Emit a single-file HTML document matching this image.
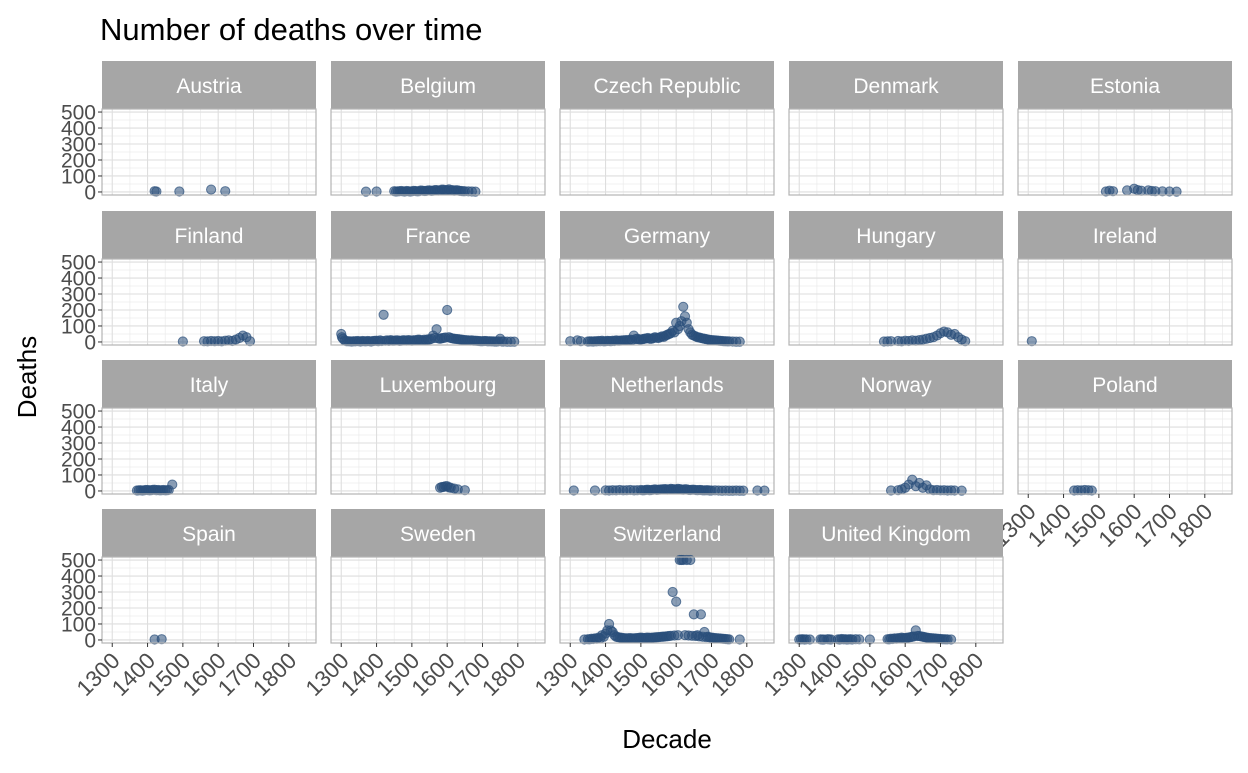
<!DOCTYPE html>
<html><head><meta charset="utf-8"><style>
body{margin:0;background:#fff;}
svg{font-family:"Liberation Sans",Arial,sans-serif;}
</style></head><body>
<svg id="chart" width="1248" height="768" xmlns="http://www.w3.org/2000/svg">
<text x="100" y="40" font-size="31" fill="#000">Number of deaths over time</text>
<text x="667" y="748" font-size="26" text-anchor="middle" fill="#000">Decade</text>
<text transform="translate(36,377) rotate(-90)" font-size="26" text-anchor="middle" fill="#000">Deaths</text>
<g id="panels"></g>
</svg>
<script>
const countries = ["Austria","Belgium","Czech Republic","Denmark","Estonia","Finland","France","Germany","Hungary","Ireland","Italy","Luxembourg","Netherlands","Norway","Poland","Spain","Sweden","Switzerland","United Kingdom"];
const xTicks = [1300,1400,1500,1600,1700,1800];
const yTicks = [0,100,200,300,400,500];
const austria = [[1420,5],[1425,3],[1490,3],[1580,15],[1620,5]];
const belgium = [[1370,2],[1400,3],[1450,5],[1455,3],[1460,4],[1465,5],[1470,6],[1475,4],[1480,3],[1485,6],[1490,5],[1495,3],[1500,4],[1505,7],[1510,6],[1515,4],[1520,5],[1525,9],[1530,8],[1535,6],[1540,6],[1545,9],[1550,10],[1555,7],[1560,8],[1565,12],[1570,12],[1575,9],[1580,10],[1585,15],[1590,14],[1595,11],[1600,12],[1605,16],[1610,10],[1615,12],[1620,8],[1625,11],[1630,10],[1635,7],[1640,6],[1645,5],[1650,5],[1660,4],[1670,3],[1680,2]];
const czech = [];
const denmark = [];
const estonia = [[1520,3],[1530,8],[1540,5],[1580,10],[1600,20],[1610,12],[1620,8],[1640,10],[1650,6],[1660,5],[1680,4],[1700,3],[1720,2]];
const finland = [[1500,3],[1560,5],[1570,4],[1580,6],[1590,5],[1600,6],[1610,4],[1620,8],[1630,10],[1640,6],[1650,15],[1660,25],[1670,40],[1680,30],[1690,5]];
const france = [[1300,50],[1302,30],[1305,20],[1310,10],[1315,5],[1320,5],[1325,4],[1330,3],[1335,5],[1340,4],[1345,6],[1350,5],[1355,3],[1360,6],[1365,5],[1370,4],[1375,6],[1380,5],[1385,3],[1390,6],[1395,7],[1400,8],[1405,5],[1410,10],[1415,6],[1420,170],[1425,8],[1430,10],[1435,7],[1440,12],[1445,8],[1450,8],[1455,10],[1460,10],[1465,7],[1470,8],[1475,11],[1480,10],[1485,9],[1490,12],[1495,10],[1500,8],[1505,11],[1510,10],[1515,13],[1520,15],[1525,12],[1530,10],[1535,14],[1540,12],[1545,16],[1550,15],[1555,20],[1560,40],[1565,25],[1570,80],[1575,22],[1580,20],[1585,24],[1590,25],[1595,28],[1600,200],[1605,30],[1610,25],[1615,22],[1620,20],[1625,19],[1630,18],[1635,16],[1640,15],[1645,13],[1650,12],[1655,11],[1660,10],[1665,9],[1670,10],[1675,8],[1680,8],[1685,7],[1690,6],[1695,5],[1700,5],[1705,6],[1710,6],[1715,4],[1720,5],[1725,4],[1730,4],[1735,3],[1740,3],[1745,4],[1750,20],[1755,3],[1760,3],[1770,2],[1780,2],[1790,2]];
const germany = [[1300,5],[1320,10],[1330,5],[1350,3],[1355,4],[1360,4],[1365,3],[1370,5],[1375,4],[1380,6],[1385,5],[1390,8],[1395,4],[1400,5],[1405,7],[1410,6],[1415,5],[1420,8],[1425,6],[1430,10],[1435,8],[1440,8],[1445,9],[1450,10],[1455,11],[1460,12],[1465,10],[1470,15],[1475,12],[1480,40],[1485,18],[1490,20],[1495,16],[1500,15],[1505,18],[1510,20],[1515,22],[1520,25],[1525,20],[1530,20],[1535,24],[1540,30],[1545,26],[1550,25],[1555,30],[1560,35],[1565,32],[1570,40],[1575,45],[1580,50],[1585,55],[1590,70],[1595,60],[1600,120],[1605,80],[1610,100],[1615,130],[1620,220],[1625,160],[1630,120],[1635,80],[1640,60],[1645,45],[1650,40],[1655,35],[1660,30],[1665,28],[1670,25],[1675,22],[1680,20],[1685,18],[1690,15],[1695,13],[1700,12],[1705,11],[1710,10],[1715,9],[1720,8],[1725,7],[1730,6],[1735,5],[1740,5],[1745,4],[1750,4],[1760,3],[1770,2],[1780,2]];
const hungary = [[1540,3],[1550,4],[1560,5],[1580,6],[1590,4],[1600,8],[1610,6],[1620,10],[1630,8],[1640,12],[1650,15],[1660,20],[1670,25],[1680,30],[1690,40],[1700,55],[1710,65],[1720,60],[1730,45],[1740,50],[1750,30],[1760,15],[1770,5]];
const ireland = [[1310,5]];
const italy = [[1370,3],[1375,4],[1380,5],[1385,3],[1390,4],[1395,6],[1400,6],[1405,4],[1410,5],[1415,7],[1420,8],[1425,5],[1430,6],[1435,4],[1440,5],[1445,6],[1450,4],[1455,5],[1460,6],[1470,40]];
const luxembourg = [[1580,20],[1585,25],[1590,25],[1595,30],[1600,30],[1605,22],[1610,20],[1620,15],[1630,10],[1650,5]];
const netherlands = [[1310,3],[1370,3],[1400,4],[1410,3],[1420,5],[1430,4],[1440,6],[1450,4],[1460,5],[1470,6],[1480,4],[1490,5],[1500,6],[1505,4],[1510,5],[1515,7],[1520,8],[1525,5],[1530,6],[1535,8],[1540,10],[1545,7],[1550,8],[1555,9],[1560,10],[1565,11],[1570,12],[1575,9],[1580,10],[1585,13],[1590,12],[1595,10],[1600,10],[1605,13],[1610,12],[1615,9],[1620,8],[1625,11],[1630,10],[1635,7],[1640,6],[1645,8],[1650,8],[1655,6],[1660,5],[1665,6],[1670,6],[1675,4],[1680,4],[1685,5],[1690,5],[1695,3],[1700,3],[1710,4],[1720,3],[1730,2],[1740,3],[1750,2],[1760,2],[1770,3],[1780,2],[1790,2],[1830,3],[1850,2]];
const norway = [[1560,3],[1580,5],[1590,10],[1600,20],[1610,40],[1620,70],[1630,30],[1640,50],[1650,20],[1660,35],[1670,10],[1680,5],[1690,6],[1700,4],[1710,5],[1720,3],[1730,4],[1740,3],[1760,2]];
const poland = [[1430,3],[1440,5],[1450,4],[1460,6],[1470,5],[1480,3]];
const spain = [[1420,3],[1440,5]];
const sweden = [];
const switzerland = [[1340,3],[1350,5],[1355,4],[1360,8],[1365,6],[1370,10],[1375,8],[1380,15],[1385,10],[1390,30],[1395,20],[1400,40],[1405,60],[1410,100],[1415,60],[1420,50],[1425,30],[1430,20],[1435,18],[1440,15],[1445,14],[1450,12],[1455,11],[1460,10],[1465,11],[1470,12],[1475,10],[1480,10],[1485,11],[1490,12],[1495,13],[1500,15],[1505,13],[1510,12],[1515,14],[1520,15],[1525,13],[1530,14],[1535,15],[1540,16],[1545,17],[1550,18],[1555,19],[1560,20],[1565,21],[1570,22],[1575,23],[1580,25],[1585,26],[1590,300],[1595,28],[1600,240],[1605,30],[1610,500],[1615,500],[1620,500],[1625,30],[1630,500],[1635,28],[1640,500],[1645,26],[1650,160],[1655,25],[1660,30],[1665,22],[1670,160],[1675,20],[1680,50],[1685,18],[1690,20],[1695,16],[1700,15],[1705,13],[1710,12],[1715,11],[1720,10],[1725,9],[1730,8],[1735,7],[1740,6],[1745,5],[1750,4],[1780,3]];
const uk = [[1300,3],[1305,4],[1310,5],[1315,3],[1320,4],[1330,3],[1360,4],[1365,3],[1370,3],[1380,5],[1385,4],[1390,3],[1410,4],[1415,3],[1420,6],[1425,4],[1430,5],[1435,3],[1440,4],[1445,5],[1450,3],[1460,5],[1470,4],[1500,3],[1550,5],[1555,4],[1560,8],[1565,6],[1570,10],[1575,8],[1580,12],[1585,10],[1590,15],[1595,12],[1600,12],[1605,14],[1610,15],[1615,18],[1620,20],[1625,22],[1630,60],[1635,25],[1640,25],[1645,22],[1650,20],[1655,18],[1660,15],[1665,13],[1670,12],[1675,11],[1680,10],[1685,9],[1690,8],[1695,7],[1700,6],[1705,5],[1710,5],[1715,4],[1720,4],[1730,3]];
const series = [austria,belgium,czech,denmark,estonia,finland,france,germany,hungary,ireland,italy,luxembourg,netherlands,norway,poland,spain,sweden,switzerland,uk];

const NS="http://www.w3.org/2000/svg";
const root=document.getElementById('panels');
const colX=[102,331,560,789,1018], PW=214;
const rowTop=[61,211,360,509], SH=48, PH=86;
const X0=1271,X1=1877,Y0=-19,Y1=519;
function mk(t,a,p){const e=document.createElementNS(NS,t);for(const k in a)e.setAttribute(k,a[k]);(p||root).appendChild(e);return e;}
countries.forEach((c,i)=>{
  const col=i%5,row=Math.floor(i/5);
  const left=colX[col], st=rowTop[row], top=st+SH, bot=top+PH;
  const sx=v=>left+(v-X0)/(X1-X0)*PW;
  const sy=v=>bot-(v-Y0)/(Y1-Y0)*PH;
  const g=mk('g',{});
  
  
  const strip=mk('rect',{x:left,y:st,width:PW,height:SH,fill:'#a6a6a6'},g);
  
  
  const lab=mk('text',{x:left+PW/2,y:st+32,'text-anchor':'middle','font-size':21,fill:'#fff'},g);
  lab.textContent=c;
  
  
  for(let v=1250;v<=1900;v+=100){if(v>X0&&v<X1)mk('line',{x1:sx(v),x2:sx(v),y1:top,y2:bot,stroke:'#ececec','stroke-width':0.8},g);}
  for(let v=50;v<=450;v+=100)mk('line',{x1:left,x2:left+PW,y1:sy(v),y2:sy(v),stroke:'#ececec','stroke-width':0.8},g);
  xTicks.forEach(v=>mk('line',{x1:sx(v),x2:sx(v),y1:top,y2:bot,stroke:'#dedede','stroke-width':1.1},g));
  yTicks.forEach(v=>mk('line',{x1:left,x2:left+PW,y1:sy(v),y2:sy(v),stroke:'#dedede','stroke-width':1.1},g));
  series[i].forEach(d=>{
    const p=mk('circle',{cx:sx(d[0]),cy:sy(d[1]),r:4.6,fill:'rgba(42,78,122,0.55)',stroke:'rgba(42,78,122,0.7)','stroke-width':1},g);
    
    
  });
  mk('rect',{x:left,y:top,width:PW,height:PH,fill:'none',stroke:'#b3b3b3','stroke-width':1.2},g);
  if(col===0){
    yTicks.forEach(v=>{
      mk('line',{x1:left-4,x2:left,y1:sy(v),y2:sy(v),stroke:'#333','stroke-width':1},g);
      const t=mk('text',{x:left-6,y:sy(v)+7.5,'text-anchor':'end','font-size':21,fill:'#4d4d4d'},g);
      t.textContent=v;
      
      
    });
  }
  const hasX = row===3 || (row===2 && col===4);
  if(hasX){
    xTicks.forEach(v=>{
      mk('line',{x1:sx(v),x2:sx(v),y1:bot,y2:bot+4,stroke:'#333','stroke-width':1},g);
      const t=mk('text',{transform:`translate(${sx(v)+9},${bot+19}) rotate(-45)`,'text-anchor':'end','font-size':22.5,fill:'#4d4d4d'},g);
      t.textContent=v;
      
      
    });
  }
});
</script>
</body></html>
